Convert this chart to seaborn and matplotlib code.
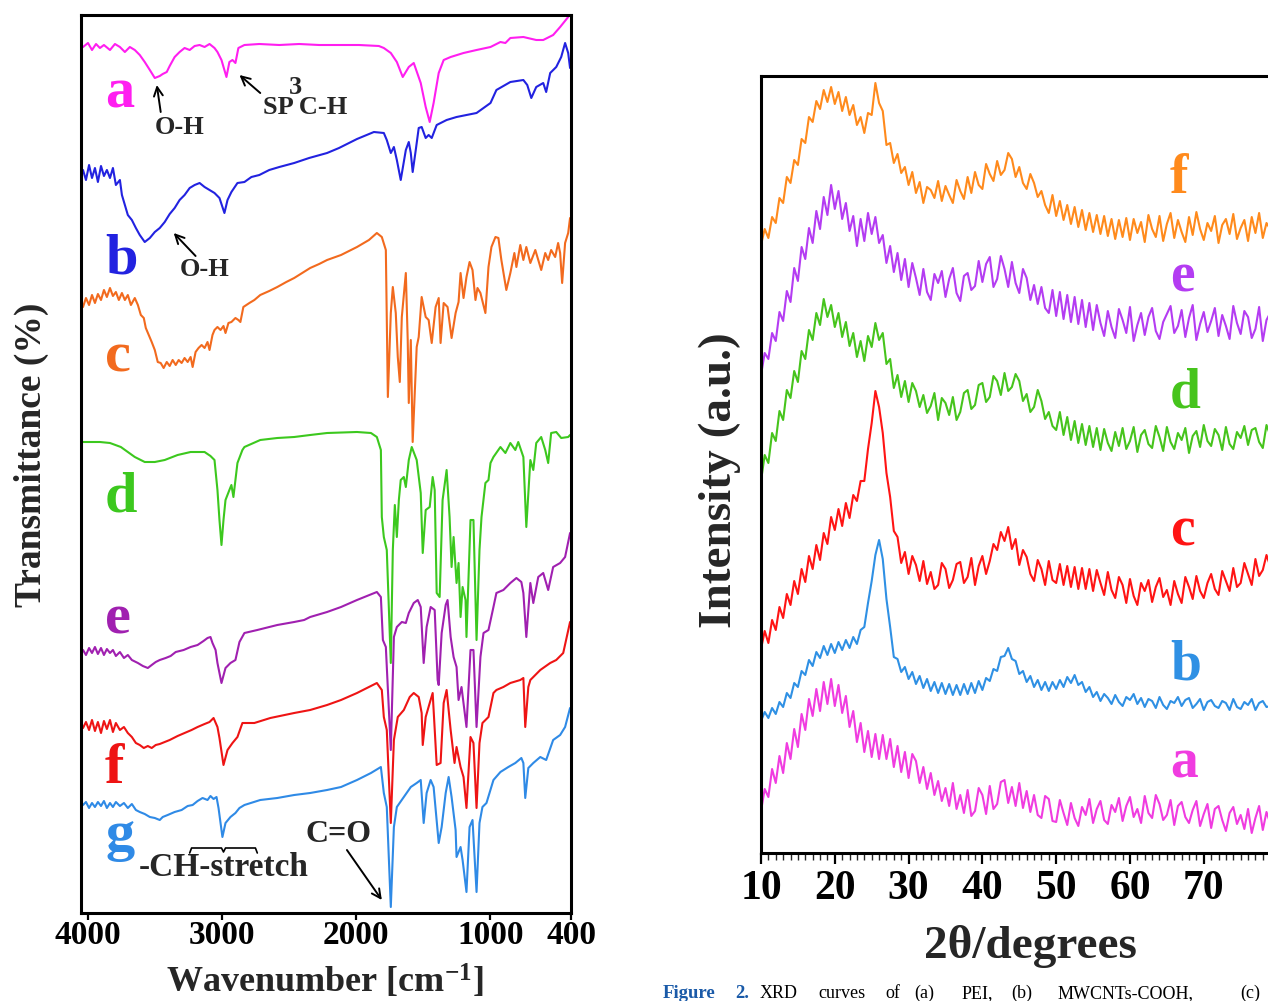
import numpy as np
import matplotlib
matplotlib.use("Agg")
import matplotlib.pyplot as plt
from matplotlib.ticker import MultipleLocator, FixedLocator
import seaborn as sns

# ---------------- FTIR data (wavenumber cm-1, offset transmittance a.u.) ----------------
a_wn = [4037,4000,3970,3940,3911,3881,3836,3799,3762,3725,3688,3651,3614,3577,3539,3502,3465,3443,3413,3391,
        3354,3317,3280,3242,3205,3168,3131,3094,3057,3035,3005,2968,2946,2923,2901,2879,2834,2723,2574,2426,
        2277,2129,1980,1832,1795,1743,1698,1654,1609,1572,1520,1483,1453,1424,1386,1349,1297,1201,1104,1000,
        926,889,852,755,659,607,533,481,421]
a_T = [866,870,863,869,865,868,863,869,866,861,866,863,858,851,843,835,837,839,841,847,
       856,861,865,863,867,868,866,869,865,861,853,836,851,853,850,865,868,869,868,869,
       868,868,868,867,865,860,851,836,846,850,830,806,791,810,840,853,856,860,863,866,
       871,870,875,876,873,873,878,886,896]

b_wn = [4037,4015,3992,3970,3948,3926,3903,3881,3859,3836,3814,3792,3762,3747,3725,3703,3673,3643,3614,3577,
        3539,3502,3465,3428,3391,3354,3317,3280,3242,3205,3168,3131,3094,3057,3020,2983,2960,2931,2886,2834,
        2782,2723,2649,2574,2463,2352,2218,2129,1995,1869,1795,1773,1743,1720,1698,1669,1631,1609,1594,1580,
        1557,1535,1513,1483,1461,1438,1401,1327,1253,1179,1104,1000,956,852,755,726,696,659,607,585,
        555,510,473,444,421,407]
b_T = [743,733,748,735,745,731,747,737,743,735,745,728,733,718,708,698,693,685,678,671,
       675,681,685,691,699,705,713,718,725,728,730,726,723,720,715,700,713,721,730,731,
       736,738,743,746,750,755,760,765,774,781,780,773,760,766,753,733,763,771,760,741,
       763,785,786,775,778,775,788,793,796,798,800,810,823,831,833,828,815,826,830,821,
       840,846,856,870,860,845]

c_wn = [4037,4015,3992,3970,3948,3926,3903,3881,3859,3836,3814,3792,3770,3747,3725,3703,3680,3651,3628,3606,
        3584,3569,3547,3525,3502,3480,3458,3436,3413,3391,3369,3346,3324,3302,3280,3257,3235,3220,3198,3176,
        3153,3131,3109,3094,3072,3057,3035,3012,2990,2975,2953,2931,2901,2879,2864,2842,2797,2760,2716,2649,
        2589,2522,2463,2404,2344,2277,2218,2114,1995,1906,1847,1810,1780,1765,1743,1728,1706,1691,1676,1661,
        1631,1617,1609,1594,1580,1550,1535,1513,1483,1461,1438,1409,1386,1372,1349,1320,1290,1260,1238,1223,
        1201,1179,1156,1134,1112,1097,1075,1038,1015,993,963,941,919,882,852,822,807,778,755,733,
        703,666,622,592,570,548,518,496,481,466,444,421,407]
c_T = [606,615,608,618,610,619,613,623,616,625,617,621,613,620,613,618,608,615,608,598,
       595,585,578,571,563,551,550,545,551,547,553,548,553,550,555,551,556,546,561,565,
       568,565,571,563,578,583,586,583,587,580,590,591,595,593,591,606,610,613,618,622,
       626,631,635,640,645,649,653,658,666,673,680,676,663,516,600,626,600,556,531,596,
       640,573,510,573,471,566,576,616,596,593,570,606,615,570,610,606,575,600,611,640,
       615,636,651,643,613,625,620,600,646,666,676,675,653,623,640,660,646,668,653,666,
       650,663,643,660,653,663,656,670,660,630,670,680,695]

d_wn = [4037,3911,3836,3755,3651,3577,3502,3428,3332,3235,3131,3087,3057,3035,3020,3005,2990,2975,2946,2931,
        2916,2901,2886,2849,2834,2716,2589,2463,2344,2218,1995,1891,1847,1817,1810,1795,1773,1743,1728,1713,
        1698,1683,1669,1646,1631,1609,1587,1550,1520,1505,1483,1453,1431,1416,1401,1379,1357,1327,1305,1290,
        1275,1253,1238,1223,1208,1186,1179,1149,1127,1104,1082,1067,1038,1015,1000,978,926,889,852,815,
        793,755,733,703,681,659,622,592,570,548,510,473,421,407]
d_T = [471,471,470,466,456,451,451,453,458,461,461,457,453,423,393,368,393,413,423,428,
       416,433,450,463,466,473,475,476,478,480,481,480,476,463,396,376,363,250,363,408,
       376,413,433,436,426,453,466,453,420,360,403,406,436,423,320,316,413,443,396,346,
       376,330,350,296,326,313,276,393,393,273,363,396,430,433,450,456,466,460,470,463,
       471,456,386,453,443,470,476,463,450,480,481,475,476,478]

e_wn = [4037,4015,3992,3970,3948,3926,3903,3881,3859,3836,3814,3792,3762,3732,3703,3673,3628,3591,3554,3525,
        3495,3465,3421,3384,3346,3287,3235,3183,3139,3109,3087,3072,3049,3035,3005,2975,2938,2901,2871,2834,
        2738,2589,2463,2389,2344,2218,2114,1995,1847,1817,1802,1780,1743,1720,1698,1661,1631,1609,1572,1542,
        1520,1498,1476,1446,1416,1394,1386,1364,1334,1320,1297,1275,1253,1238,1216,1179,1149,1127,1104,1075,
        1052,1015,978,956,904,852,807,770,755,733,703,681,644,607,570,533,481,444,407]
e_T = [263,258,265,260,266,259,265,258,264,260,263,257,261,255,258,253,250,247,245,248,
       251,253,255,257,261,263,266,268,272,275,276,270,263,250,230,245,250,253,271,280,
       283,288,291,293,296,301,306,313,321,316,273,266,163,276,286,291,290,300,310,313,
       306,250,286,306,303,233,228,280,308,313,276,256,246,213,226,186,263,263,186,256,
       280,283,306,320,323,330,335,331,320,276,330,310,336,340,323,346,350,356,380]

f_wn = [4037,4015,3992,3970,3948,3926,3903,3881,3859,3836,3814,3792,3762,3732,3703,3673,3643,3614,3584,3554,
        3525,3495,3465,3428,3391,3332,3280,3228,3183,3131,3094,3064,3035,3020,2990,2960,2923,2886,2849,2760,
        2641,2463,2344,2218,2114,1995,1847,1810,1795,1773,1743,1720,1691,1646,1602,1572,1535,1513,1505,1483,
        1453,1431,1401,1372,1349,1327,1297,1268,1253,1223,1201,1179,1149,1127,1104,1082,1060,1015,978,956,
        904,852,778,755,741,718,703,629,555,510,458,407]
f_T = [185,191,183,193,182,191,180,192,184,193,181,190,183,186,180,176,170,168,165,167,
       165,168,169,171,173,177,180,183,186,189,191,195,186,175,148,163,170,176,190,190,
       195,200,203,208,213,220,230,223,196,183,90,173,196,203,216,220,216,200,168,196,
       210,220,148,150,210,223,183,150,166,146,136,105,176,170,105,170,190,196,220,223,
       226,230,233,235,186,226,233,243,250,253,260,291]

g_wn = [4037,4015,3992,3970,3948,3926,3903,3881,3859,3836,3814,3792,3762,3732,3703,3673,3643,3614,3577,3539,
        3502,3465,3443,3406,3354,3302,3257,3220,3183,3146,3109,3087,3064,3042,3027,2998,2975,2938,2901,2871,
        2834,2716,2589,2463,2344,2218,2114,1995,1891,1817,1795,1773,1743,1720,1698,1646,1594,1550,1520,1498,
        1476,1446,1424,1386,1364,1334,1312,1290,1260,1253,1223,1208,1179,1156,1134,1104,1082,1060,1030,978,
        926,867,815,770,755,741,718,681,629,585,533,481,444,407]
g_T = [108,111,105,110,106,111,107,112,105,110,106,111,107,110,105,109,103,101,99,96,
       95,93,96,98,101,103,107,108,112,115,113,117,114,116,105,76,90,96,100,105,
       108,113,115,118,120,123,126,133,140,146,120,106,6,86,106,116,126,130,133,90,
       120,133,126,70,86,120,136,116,83,56,66,53,21,86,93,21,90,106,110,133,
       141,146,150,155,150,115,145,150,156,153,173,178,186,205]

ftir_labels = ["a", "b", "c", "d", "e", "f", "g"]
ftir_colors = ["#ff1ef0", "#2222e0", "#f26a1e", "#3cc81e", "#a020b0", "#ee1414", "#2f8ae6"]

# ---------------- XRD data (2theta from 10 to 79 deg in 0.5 deg steps, offset intensity) ----------------
two_theta = np.arange(10, 79.25, 0.5)

xrd_f = [608,624, 615,636, 630,655, 650,676, 670,693, 688,714, 710,736, 731,752, 744,763, 751,766,
         749,761, 742,756, 738,748, 728,736, 720,740, 738,770, 750,742, 708,710, 690,699, 680,686,
         668,681, 660,671, 650,666, 663,655, 672,652, 667,658, 650,673, 662,654, 676,660, 681,668,
         664,689, 679,672, 692,678, 683,700, 694,676, 686,670, 664,679, 670,656, 662,648, 640,658,
         637,652, 633,648, 629,646, 626,643, 623,640, 621,638, 619,637, 617,634, 614,633, 616,635,
         613,634, 620,631, 611,638, 624,616, 637,612, 629,640, 615,633, 621,611, 636,618, 641,624,
         613,630, 622,637, 610,628, 634,619, 639,614, 625,633, 612,636, 620,640, 615,630, 624]
xrd_e = [478,500, 494,520, 512,541, 532,562, 551,585, 572,606, 594,625, 610,642, 624,656, 638,668,
         644,662, 634,650, 622,637, 607,634, 612,640, 619,636, 610,618, 590,607, 581,600, 573,594,
         566,590, 575,558, 584,561, 553,579, 570,582, 556,574, 585,560, 552,577, 580,563, 567,592,
         571,589, 596,566, 574,597, 584,566, 591,570, 560,584, 575,553, 568,549, 566,545, 540,563,
         537,561, 534,558, 531,556, 529,553, 526,550, 523,548, 530,517, 542,526, 515,544, 533,520,
         546,512, 528,540, 518,536, 545,522, 514,531, 539,547, 520,527, 543,516, 535,548, 513,529,
         541,521, 532,545, 517,538, 527,514, 547,530, 519,542, 536,515, 524,546, 512,533, 540]
xrd_d = [372,398, 390,420, 412,442, 433,463, 455,482, 471,502, 494,523, 513,540, 528,554, 536,548,
         526,540, 516,531, 507,520, 496,512, 492,517, 506,530, 513,520, 489,494, 465,478, 456,472,
         451,470, 462,446, 458,440, 447,460, 433,455, 450,438, 456,433, 441,460, 463,444, 448,468,
         470,451, 456,477, 472,458, 480,462, 466,479, 472,452, 459,441, 446,463, 452,434, 441,427,
         423,441, 418,436, 413,432, 410,429, 408,427, 406,425, 403,424, 410,402, 421,407, 425,404,
         412,426, 401,418, 423,409, 405,427, 416,402, 426,411, 404,420, 413,425, 400,417, 422,406,
         428,412, 407,424, 418,403, 426,409, 404,421, 415,427, 408,423, 425,411, 405,428, 418]
xrd_c = [204,222, 210,233, 223,246, 235,259, 248,272, 259,284, 271,297, 284,308, 293,320, 309,336,
         323,344, 327,350, 335,358, 352,372, 372,404, 430,462, 446,420, 380,356, 322,316, 290,301,
         279,297, 288,272, 292,269, 281,264, 268,290, 284,265, 273,289, 291,270, 276,295, 268,287,
         297,279, 292,309, 303,321, 312,326, 304,314, 288,303, 296,279, 272,293, 284,268, 292,273,
         270,289, 268,287, 266,286, 264,285, 264,284, 262,283, 270,258, 281,263, 255,276, 268,250,
         274,257, 248,270, 262,273, 251,266, 275,256, 263,248, 272,259, 250,276, 266,254, 277,262,
         255,270, 279,264, 258,282, 272,262, 285,266, 270,290, 279,268, 294,277, 283,298, 287]
xrd_b = [132,141, 135,145, 139,151, 146,160, 155,170, 166,182, 178,193, 187,201, 195,207, 198,209,
         200,211, 203,213, 205,216, 209,223, 226,250, 272,298, 313,294, 254,226, 196,194, 181,186,
         174,181, 169,177, 165,174, 162,171, 160,170, 159,169, 158,168, 158,169, 159,170, 160,172,
         163,175, 172,184, 182,196, 197,205, 194,192, 179,182, 171,177, 166,173, 163,171, 162,171,
         164,173, 166,176, 170,178, 168,171, 161,166, 156,161, 152,159, 155,149, 158,151, 147,156,
         153,159, 149,155, 146,154, 152,145, 156,148, 144,152, 150,156, 147,153, 155,145, 149,154,
         143,151, 153,147, 145,152, 150,143, 154,146, 144,151, 148,154, 143,150, 152,146, 147]
xrd_a = [42,64, 56,84, 70,97, 80,110, 94,124, 106,139, 123,154, 137,164, 142,171, 149,174,
         147,168, 140,157, 126,142, 111,130, 101,122, 96,119, 94,118, 94,114, 86,107, 81,101,
         75,99, 92,70, 86,64, 80,58, 72,52, 65,47, 70,44, 58,40, 63,37, 42,65,
         58,39, 67,44, 49,71, 73,50, 66,47, 70,45, 62,41, 58,38, 35,57, 54,32,
         31,53, 40,28, 50,35, 27,46, 38,54, 30,44, 52,33, 29,48, 41,55, 32,47,
         56,36, 44,30, 57,40, 35,58, 49,33, 38,53, 28,47, 51,36, 30,43, 52,27,
         39,49, 25,44, 47,33, 22,40, 46,29, 38,24, 44,20, 35,47, 23,41, 30]

xrd_labels = ["f", "e", "d", "c", "b", "a"]
xrd_colors = ["#ff8a1c", "#b43cf2", "#46c41c", "#ff1414", "#2f90e4", "#f03ce0"]

# ---------------- styling ----------------
sns.set_theme(style="white")
plt.rcParams["font.family"] = ["Liberation Serif", "DejaVu Serif"]
plt.rcParams["font.weight"] = "bold"
plt.rcParams["mathtext.fontset"] = "custom"
plt.rcParams["mathtext.rm"] = "Liberation Serif:bold"
plt.rcParams["mathtext.it"] = "Liberation Serif:bold"
plt.rcParams["mathtext.bf"] = "Liberation Serif:bold"

W, H = 1268.0, 1001.0
fig = plt.figure(figsize=(W / 100, H / 100), dpi=100)
fig.patch.set_facecolor("white")

# ---------------- left panel: FTIR ----------------
ax1 = fig.add_axes([81 / W, 1 - 913 / H, 490 / W, 898 / H])
ftir = [(a_wn, a_T), (b_wn, b_T), (c_wn, c_T), (d_wn, d_T), (e_wn, e_T), (f_wn, f_T), (g_wn, g_T)]
for (wn, tr), col in zip(ftir, ftir_colors):
    n = min(len(wn), len(tr))
    sns.lineplot(x=np.array(wn[:n]), y=np.array(tr[:n]), ax=ax1, color=col, lw=1.5,
                 sort=False, estimator=None)
ax1.set_xlim(4052, 414)
ax1.set_ylim(0, 898)
ax1.set_xticks([4000, 3000, 2000, 1000, 400])
ax1.set_xticklabels(["4000", "3000", "2000", "1000", "400"])
ax1.set_yticks([])
ax1.tick_params(axis="x", bottom=True, direction="out", length=5, width=1.6, pad=0,
                labelsize=24, colors="black")
for lab in ax1.get_xticklabels():
    lab.set_fontweight("bold")
for sp in ax1.spines.values():
    sp.set_linewidth(2.2)
    sp.set_color("black")
ax1.set_xlabel("")
ax1.set_ylabel("")

# curve letters (baselines)
ftir_letter_h = [805, 640, 541, 401, 280, 130, 63]
for lab, col, hh in zip(ftir_labels, ftir_colors, ftir_letter_h):
    ax1.text(3873, hh, lab, color=col, fontsize=42, fontweight="bold", ha="left", va="baseline")

arrow = dict(arrowstyle="->", color="black", lw=1.4, mutation_scale=16, shrinkA=0, shrinkB=0)
ax1.annotate("", xy=(3487, 828), xytext=(3458, 801), arrowprops=arrow)
ax1.text(3317, 785, "O-H", fontsize=19, fontweight="bold", ha="center", va="center")
ax1.annotate("", xy=(2871, 838), xytext=(2716, 820), arrowprops=arrow)
ax1.text(2381, 805, "SP C-H", fontsize=19, fontweight="bold", ha="center", va="center")
ax1.text(2452, 826, "3", fontsize=19, fontweight="bold", ha="center", va="center")
ax1.annotate("", xy=(3361, 680), xytext=(3198, 657), arrowprops=arrow)
ax1.text(3131, 643, "O-H", fontsize=19, fontweight="bold", ha="center", va="center")
ax1.annotate("", xy=(1810, 13), xytext=(2070, 63), arrowprops=arrow)
ax1.text(2129, 78, "C=O", fontsize=23, fontweight="bold", ha="center", va="center")
ax1.text(2990, 45, "-CH-stretch", fontsize=24, fontweight="bold", ha="center", va="center")
brace_w = [3242, 3228, 3005, 2990, 2975, 2752, 2738]
brace_h = [60, 65, 65, 61, 65, 65, 60]
ax1.plot(brace_w, brace_h, color="black", lw=1.2)

ax1.text(-0.102, 0.51, "Transmittance (%)", transform=ax1.transAxes, rotation=90,
         fontsize=27, fontweight="bold", ha="center", va="center")
ax1.text(0.498, -0.0891, r"Wavenumber [cm$^{-1}$]", transform=ax1.transAxes,
         fontsize=26, fontweight="bold", ha="center", va="baseline")

# ---------------- right panel: XRD ----------------
ax2 = fig.add_axes([761 / W, 1 - 853 / H, 538.7 / W, 777 / H])
for vals, col in zip([xrd_f, xrd_e, xrd_d, xrd_c, xrd_b, xrd_a], xrd_colors):
    n = min(len(vals), len(two_theta))
    sns.lineplot(x=two_theta[:n], y=np.array(vals[:n]), ax=ax2, color=col, lw=1.5,
                 sort=False, estimator=None)
ax2.set_xlim(10, 83)
ax2.set_ylim(0, 777)
ax2.xaxis.set_major_locator(FixedLocator([10, 20, 30, 40, 50, 60, 70]))
ax2.xaxis.set_minor_locator(MultipleLocator(1))
ax2.set_yticks([])
ax2.tick_params(axis="x", which="major", bottom=True, direction="out", length=8, width=1.6,
                pad=4, labelsize=30, colors="black")
ax2.tick_params(axis="x", which="minor", bottom=True, direction="out", length=5, width=1.0)
for lab in ax2.get_xticklabels():
    lab.set_fontweight("bold")
for sp in ax2.spines.values():
    sp.set_linewidth(2.2)
    sp.set_color("black")
ax2.set_xlabel("")
ax2.set_ylabel("")

xrd_letter_h = [660, 561, 446, 308, 173, 75]
for lab, col, hh in zip(xrd_labels, xrd_colors, xrd_letter_h):
    ax2.text(65.4, hh, lab, color=col, fontsize=40, fontweight="bold", ha="left", va="baseline")

ax2.text(-0.076, 0.48, "Intensity (a.u.)", transform=ax2.transAxes, rotation=90,
         fontsize=34, fontweight="bold", ha="center", va="center")
ax2.text(0.501, -0.135, "2θ/degrees", transform=ax2.transAxes,
         fontsize=34, fontweight="bold", ha="center", va="baseline")

# ---------------- caption (cropped) ----------------
cap_y = 1 - 998 / H
fig.text(663 / W, cap_y, "Figure", color="#1a5aa8", fontsize=13.5, fontweight="bold",
         ha="left", va="baseline")
fig.text(735 / W, cap_y, "2.", color="#1a5aa8", fontsize=13.5, fontweight="bold",
         ha="left", va="baseline")
words = [("XRD", 760), ("curves", 818), ("of", 885), ("(a)", 914), ("PEI,", 962),
         ("(b)", 1011), ("MWCNTs-COOH,", 1058), ("(c)", 1240)]
for wtxt, xp in words:
    fig.text(xp / W, cap_y, wtxt, color="black", fontsize=13, fontweight="normal",
             ha="left", va="baseline")

fig.savefig("out.png", dpi=100, facecolor="white")
